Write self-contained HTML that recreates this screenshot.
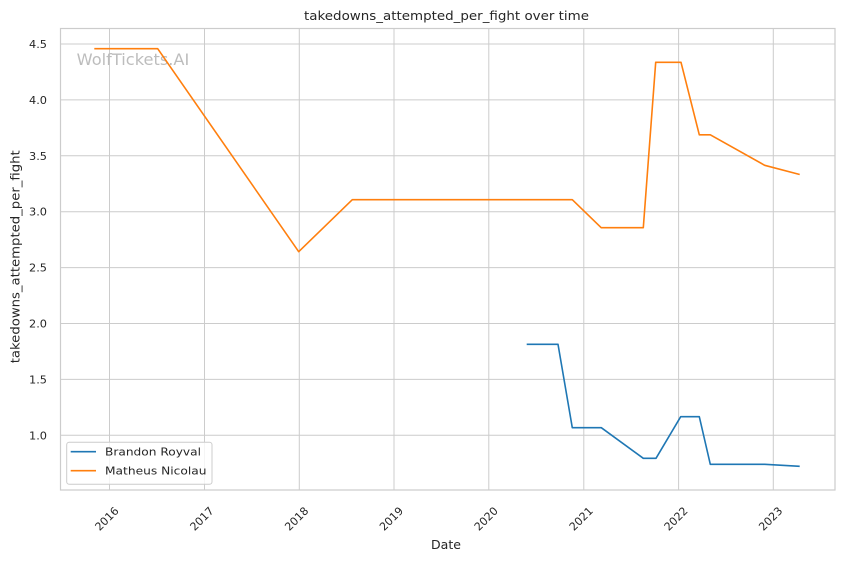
<!DOCTYPE html>
<html><head><meta charset="utf-8"><style>
html,body{margin:0;padding:0;background:#fff;}
svg{display:block;font-family:"DejaVu Sans","Liberation Sans",sans-serif;}
</style></head><body>
<svg width="844" height="561" viewBox="0 0 844 561" xmlns="http://www.w3.org/2000/svg">
<rect width="844" height="561" fill="#fff"/>
<g stroke="#cccccc" stroke-width="1" fill="none">
<line x1="109.5" y1="28" x2="109.5" y2="490"/>
<line x1="204.5" y1="28" x2="204.5" y2="490"/>
<line x1="299.3" y1="28" x2="299.3" y2="490"/>
<line x1="394" y1="28" x2="394" y2="490"/>
<line x1="488.8" y1="28" x2="488.8" y2="490"/>
<line x1="583.8" y1="28" x2="583.8" y2="490"/>
<line x1="678.6" y1="28" x2="678.6" y2="490"/>
<line x1="773.3" y1="28" x2="773.3" y2="490"/>
<line x1="60" y1="44" x2="835" y2="44"/>
<line x1="60" y1="99.9" x2="835" y2="99.9"/>
<line x1="60" y1="155.8" x2="835" y2="155.8"/>
<line x1="60" y1="211.7" x2="835" y2="211.7"/>
<line x1="60" y1="267.6" x2="835" y2="267.6"/>
<line x1="60" y1="323.5" x2="835" y2="323.5"/>
<line x1="60" y1="379.4" x2="835" y2="379.4"/>
<line x1="60" y1="435.3" x2="835" y2="435.3"/>
<rect x="60.5" y="28.5" width="774.5" height="461.5" stroke-width="1.2"/>
</g>
<text x="76.7" y="65" font-size="16" fill="#bdbdbd" textLength="112.6" lengthAdjust="spacingAndGlyphs">WolfTickets.AI</text>
<polyline fill="none" stroke="#ff7f0e" stroke-width="1.6" stroke-linejoin="round" points="94.3,48.7 157.7,48.7 298.7,251.7 352.3,199.7 572.3,199.7 601.2,227.7 643.3,227.7 655.7,62.3 681,62.3 699.3,134.8 710.3,134.8 764.7,165.3 799.7,174.5"/>
<polyline fill="none" stroke="#1f77b4" stroke-width="1.6" stroke-linejoin="round" points="526.7,344.3 558,344.3 572.3,427.7 601.3,427.7 643.3,458.3 656,458.3 680.7,416.7 699.3,416.7 710.3,464.3 764.7,464.3 799.7,466.3"/>
<g font-size="11" fill="#262626">
<text x="29" y="48" textLength="18" lengthAdjust="spacingAndGlyphs">4.5</text>
<text x="29" y="103.9" textLength="18" lengthAdjust="spacingAndGlyphs">4.0</text>
<text x="29" y="159.8" textLength="18" lengthAdjust="spacingAndGlyphs">3.5</text>
<text x="29" y="215.7" textLength="18" lengthAdjust="spacingAndGlyphs">3.0</text>
<text x="29" y="271.6" textLength="18" lengthAdjust="spacingAndGlyphs">2.5</text>
<text x="29" y="327.5" textLength="18" lengthAdjust="spacingAndGlyphs">2.0</text>
<text x="29" y="383.4" textLength="18" lengthAdjust="spacingAndGlyphs">1.5</text>
<text x="29" y="439.3" textLength="18" lengthAdjust="spacingAndGlyphs">1.0</text>
</g>
<g font-size="11" fill="#262626">
<text transform="translate(109.5,521.5) rotate(-45)" x="-14" textLength="28" lengthAdjust="spacingAndGlyphs">2016</text>
<text transform="translate(204.5,521.5) rotate(-45)" x="-14" textLength="28" lengthAdjust="spacingAndGlyphs">2017</text>
<text transform="translate(299.3,521.5) rotate(-45)" x="-14" textLength="28" lengthAdjust="spacingAndGlyphs">2018</text>
<text transform="translate(394,521.5) rotate(-45)" x="-14" textLength="28" lengthAdjust="spacingAndGlyphs">2019</text>
<text transform="translate(488.8,521.5) rotate(-45)" x="-14" textLength="28" lengthAdjust="spacingAndGlyphs">2020</text>
<text transform="translate(583.8,521.5) rotate(-45)" x="-14" textLength="28" lengthAdjust="spacingAndGlyphs">2021</text>
<text transform="translate(678.6,521.5) rotate(-45)" x="-14" textLength="28" lengthAdjust="spacingAndGlyphs">2022</text>
<text transform="translate(773.3,521.5) rotate(-45)" x="-14" textLength="28" lengthAdjust="spacingAndGlyphs">2023</text>
</g>
<text x="431" y="549" font-size="12" fill="#262626" textLength="30" lengthAdjust="spacingAndGlyphs">Date</text>
<text transform="translate(19.3,363.3) rotate(-90)" font-size="12" fill="#262626" textLength="213" lengthAdjust="spacingAndGlyphs">takedowns_attempted_per_fight</text>
<text x="304" y="20" font-size="12" fill="#262626" textLength="285" lengthAdjust="spacingAndGlyphs">takedowns_attempted_per_fight over time</text>
<rect x="66.7" y="442.3" width="145.3" height="42" rx="2.5" fill="#fff" fill-opacity="0.8" stroke="#cccccc" stroke-width="1"/>
<line x1="70.7" y1="451.7" x2="96" y2="451.7" stroke="#1f77b4" stroke-width="1.6"/>
<line x1="70.7" y1="470.7" x2="96" y2="470.7" stroke="#ff7f0e" stroke-width="1.6"/>
<text x="105" y="455.6" font-size="11" fill="#262626" textLength="96" lengthAdjust="spacingAndGlyphs">Brandon Royval</text>
<text x="105" y="474.6" font-size="11" fill="#262626" textLength="101.5" lengthAdjust="spacingAndGlyphs">Matheus Nicolau</text>
</svg>
</body></html>
